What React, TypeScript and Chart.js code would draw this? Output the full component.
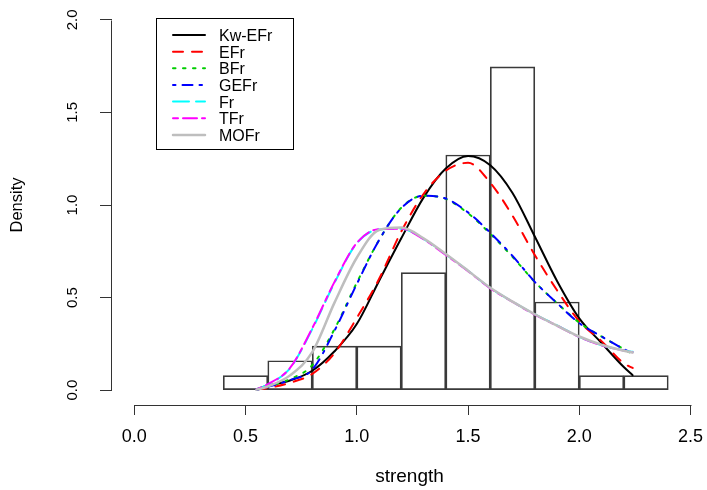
import React, { useEffect, useRef } from 'react';
import { Chart, registerables } from 'chart.js';

Chart.register(...registerables);

// ---- data ----
const binCenters = [0.5, 0.7, 0.9, 1.1, 1.3, 1.5, 1.7, 1.9, 2.1, 2.3];
const binDensity = [0.079, 0.159, 0.238, 0.238, 0.635, 1.27, 1.746, 0.476, 0.079, 0.079];

const xGrid = [0.55, 0.6, 0.7, 0.8, 0.9, 1.0, 1.1, 1.2, 1.3, 1.4, 1.5, 1.6, 1.7, 1.8, 1.9, 2.0, 2.1, 2.2, 2.24];
const kwEFr = [0.005, 0.025, 0.052, 0.105, 0.21, 0.357, 0.59, 0.82, 1.04, 1.197, 1.265, 1.215, 1.065, 0.83, 0.59, 0.388, 0.255, 0.125, 0.081];
const eFr = [0.003, 0.012, 0.04, 0.088, 0.2, 0.39, 0.6, 0.857, 1.059, 1.185, 1.228, 1.12, 0.942, 0.73, 0.54, 0.372, 0.265, 0.145, 0.12];
const bFr = [0.002, 0.02, 0.06, 0.135, 0.33, 0.58, 0.81, 0.985, 1.05, 1.033, 0.955, 0.845, 0.72, 0.585, 0.47, 0.365, 0.29, 0.222, 0.195];
const gEFr = [0.002, 0.018, 0.055, 0.111, 0.321, 0.573, 0.81, 0.983, 1.05, 1.035, 0.96, 0.85, 0.725, 0.585, 0.47, 0.362, 0.29, 0.222, 0.198];
const fr = [0.005, 0.03, 0.118, 0.33, 0.58, 0.793, 0.868, 0.872, 0.817, 0.733, 0.645, 0.552, 0.478, 0.41, 0.35, 0.288, 0.243, 0.215, 0.207];
const tFr = [0.005, 0.032, 0.12, 0.335, 0.585, 0.795, 0.87, 0.872, 0.815, 0.73, 0.643, 0.55, 0.477, 0.408, 0.348, 0.287, 0.242, 0.214, 0.205];
const moFr = [0.003, 0.02, 0.08, 0.205, 0.473, 0.715, 0.865, 0.878, 0.82, 0.735, 0.645, 0.553, 0.478, 0.41, 0.348, 0.29, 0.245, 0.213, 0.203];

const seriesNames = ['Kw-EFr', 'EFr', 'BFr', 'GEFr', 'Fr', 'TFr', 'MOFr'];
const seriesValues = [kwEFr, eFr, bFr, gEFr, fr, tFr, moFr];
const seriesColors = ['#000000', '#FF0000', '#00CD00', '#0000FF', '#00FFFF', '#FF00FF', '#BEBEBE'];
const seriesDash: number[][] = [[], [10, 9], [2.5, 7.5], [2.5, 7, 10, 7], [16, 7], [5, 5, 14, 5], []];

const xTicks = [0, 0.5, 1.0, 1.5, 2.0, 2.5];
const yTicks = [0, 0.5, 1.0, 1.5, 2.0];

const FONT = '"Liberation Sans", Arial, Helvetica, sans-serif';

const axisLinePlugin = {
  id: 'axisLines',
  afterDraw(chart: any) {
    const ctx: CanvasRenderingContext2D = chart.ctx;
    const area = chart.chartArea;
    const xs = chart.scales['x'];
    const ys = chart.scales['y'];
    const x0 = xs.getPixelForValue(xTicks[0]);
    const x1 = xs.getPixelForValue(xTicks[xTicks.length - 1]);
    const y0 = ys.getPixelForValue(yTicks[0]);
    const y1 = ys.getPixelForValue(yTicks[yTicks.length - 1]);
    ctx.save();
    ctx.setLineDash([]);
    ctx.strokeStyle = '#333333';
    ctx.lineWidth = 1;
    ctx.beginPath();
    ctx.moveTo(Math.round(x0) + 0.5, Math.round(area.bottom) + 0.5);
    ctx.lineTo(Math.round(x1) + 0.5, Math.round(area.bottom) + 0.5);
    ctx.moveTo(Math.round(area.left) - 0.5, Math.round(y0) + 0.5);
    ctx.lineTo(Math.round(area.left) - 0.5, Math.round(y1) + 0.5);
    ctx.stroke();
    ctx.restore();
  },
};

const legendPlugin = {
  id: 'boxLegend',
  afterDraw(chart: any) {
    const ctx: CanvasRenderingContext2D = chart.ctx;
    ctx.save();
    ctx.setLineDash([]);
    ctx.strokeStyle = '#000000';
    ctx.lineWidth = 1;
    ctx.strokeRect(156.5, 18.5, 137, 131);
    const lineDs = chart.data.datasets.filter((d: any) => d.type === 'line');
    lineDs.forEach((ds: any, j: number) => {
      const y = 35 + j * 16.65;
      ctx.save();
      ctx.strokeStyle = ds.borderColor;
      ctx.lineWidth = ds.borderWidth;
      ctx.lineCap = 'round';
      ctx.setLineDash(ds.borderDash || []);
      ctx.beginPath();
      ctx.moveTo(173, y);
      ctx.lineTo(205, y);
      ctx.stroke();
      ctx.restore();
      ctx.fillStyle = '#000000';
      ctx.font = `16px ${FONT}`;
      ctx.textBaseline = 'middle';
      ctx.textAlign = 'left';
      ctx.fillText(ds.label, 219, y + 1.5);
    });
    ctx.restore();
  },
};

export default function App() {
  const ref = useRef<HTMLCanvasElement | null>(null);

  useEffect(() => {
    if (!ref.current) return;
    const histDs: any = {
      type: 'bar',
      label: 'hist',
      data: binCenters.map((x, i) => ({ x, y: binDensity[i] })),
      backgroundColor: 'rgba(255,255,255,0)',
      borderColor: '#3a3a3a',
      borderWidth: 1,
      borderSkipped: false,
      barPercentage: 1,
      categoryPercentage: 1,
      order: 100,
    };
    const lineDs: any[] = seriesNames.map((name, k) => ({
      type: 'line',
      label: name,
      data: xGrid.map((x, i) => ({ x, y: seriesValues[k][i] })),
      borderColor: seriesColors[k],
      backgroundColor: seriesColors[k],
      borderWidth: k === 6 ? 2.5 : 2,
      borderDash: seriesDash[k],
      borderCapStyle: 'round',
      pointRadius: 0,
      fill: false,
      cubicInterpolationMode: 'monotone',
      order: 10 - k,
    }));

    const chart = new Chart(ref.current, {
      type: 'line',
      data: { datasets: [histDs, ...lineDs] },
      options: {
        animation: false,
        responsive: false,
        devicePixelRatio: 1,
        layout: { padding: { top: 5, right: 0, bottom: 0, left: 0 } },
        plugins: { legend: { display: false }, tooltip: { enabled: false } },
        scales: {
          x: {
            type: 'linear',
            min: -0.1,
            max: 2.574,
            offset: false,
            afterBuildTicks: (s: any) => {
              s.ticks = xTicks.map((v) => ({ value: v }));
            },
            afterFit: (s: any) => {
              s.height = 85;
              s.paddingLeft = 0;
              s.paddingRight = 0;
              s.paddingTop = 0;
              s.paddingBottom = 0;
            },
            grid: {
              display: true,
              drawOnChartArea: false,
              drawTicks: true,
              tickLength: 10,
              color: '#333333',
              lineWidth: 1,
              offset: false,
            },
            border: { display: false },
            ticks: {
              autoSkip: false,
              maxRotation: 0,
              minRotation: 0,
              padding: 11,
              color: '#000000',
              font: { family: FONT, size: 18 },
              callback: (v: any) => Number(v).toFixed(1),
            },
            title: {
              display: true,
              text: 'strength',
              color: '#000000',
              font: { family: FONT, size: 19 },
              padding: { top: 0, bottom: 2 },
            },
          },
          y: {
            type: 'linear',
            min: -0.08,
            max: 2.08,
            afterBuildTicks: (s: any) => {
              s.ticks = yTicks.map((v) => ({ value: v }));
            },
            afterFit: (s: any) => {
              s.width = 112;
              s.paddingLeft = 0;
              s.paddingRight = 0;
              s.paddingTop = 0;
              s.paddingBottom = 0;
            },
            grid: {
              display: true,
              drawOnChartArea: false,
              drawTicks: true,
              tickLength: 12,
              color: '#333333',
              lineWidth: 1,
              offset: false,
            },
            border: { display: false },
            ticks: {
              autoSkip: false,
              minRotation: 90,
              maxRotation: 90,
              crossAlign: 'center',
              padding: 17,
              color: '#000000',
              font: { family: FONT, size: 15 },
              callback: (v: any) => Number(v).toFixed(1),
            },
            title: {
              display: true,
              text: 'Density',
              color: '#000000',
              font: { family: FONT, size: 16.5 },
              padding: { top: 8, bottom: 0 },
            },
          },
        },
      } as any,
      plugins: [axisLinePlugin, legendPlugin],
    });
    return () => chart.destroy();
  }, []);

  return (
    <div style={{ position: 'absolute', left: 0, top: 0, width: 707, height: 490, background: '#fff' }}>
      <canvas ref={ref} width={707} height={490} style={{ display: 'block', width: 707, height: 490 }} />
    </div>
  );
}
